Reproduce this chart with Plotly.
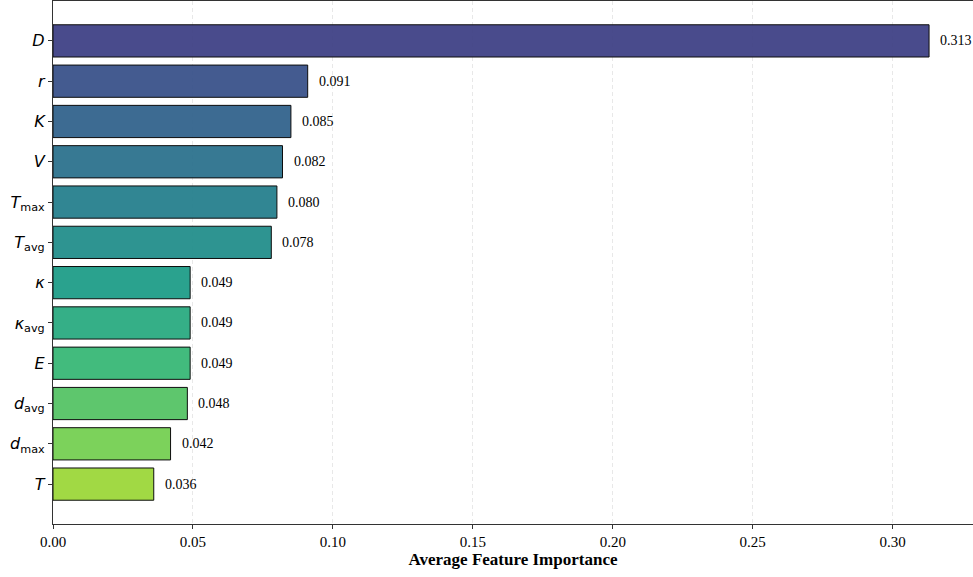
import plotly.graph_objects as go
from plotly.colors import sample_colorscale

# Feature names (top to bottom as displayed) and their average importance
features = [
    "<i>D</i>", "<i>r</i>", "<i>K</i>", "<i>V</i>",
    "<i>T</i><sub>max</sub>", "<i>T</i><sub>avg</sub>",
    "<i>κ</i>", "<i>κ</i><sub>avg</sub>", "<i>E</i>",
    "<i>d</i><sub>avg</sub>", "<i>d</i><sub>max</sub>", "<i>T</i>",
]
importance = [0.313, 0.091, 0.085, 0.082, 0.080, 0.078,
              0.049, 0.049, 0.049, 0.048, 0.042, 0.036]
value_labels = [f"{v:.3f}" for v in importance]

n = len(features)
# viridis shades from dark (most important) to light green
colors = sample_colorscale("Viridis", [0.2 + 0.65 * i / (n - 1) for i in range(n)])

# plot bottom-to-top so the most important feature sits on top
feat_plot = features[::-1]
imp_plot = importance[::-1]
col_plot = colors[::-1]
lab_plot = value_labels[::-1]

fig = go.Figure(
    go.Bar(
        x=imp_plot,
        y=feat_plot,
        orientation="h",
        width=0.8,
        marker=dict(color=col_plot, line=dict(color="black", width=1)),
        opacity=0.95,
        hoverinfo="x+y",
    )
)

for v, f, t in zip(imp_plot, feat_plot, lab_plot):
    fig.add_annotation(
        x=v, y=f, text=t, showarrow=False, xanchor="left", xshift=9,
        font=dict(family="Liberation Serif", size=14, color="black"),
    )

fig.update_layout(
    width=973,
    height=577,
    margin=dict(l=53, r=0, t=1, b=53),
    plot_bgcolor="white",
    paper_bgcolor="white",
    showlegend=False,
)

fig.update_xaxes(
    range=[0, 0.3287],
    tickvals=[0, 0.05, 0.10, 0.15, 0.20, 0.25, 0.30],
    ticktext=["0.00", "0.05", "0.10", "0.15", "0.20", "0.25", "0.30"],
    tickfont=dict(family="Liberation Serif", size=15, color="black"),
    ticks="outside", ticklen=4, tickcolor="#333",
    showline=True, linecolor="#333", linewidth=1.3, mirror=True,
    showgrid=True, gridcolor="rgba(0,0,0,0.09)", griddash="4px,3px", gridwidth=1,
    zeroline=False,
    title=dict(
        text="<b>Average Feature Importance</b>",
        font=dict(family="Liberation Serif", size=17, color="black"),
        standoff=3,
    ),
)

fig.update_yaxes(
    type="category",
    categoryorder="array",
    categoryarray=feat_plot,
    range=[-0.99, n - 1 + 0.99],
    tickfont=dict(family="DejaVu Sans", size=16, color="black"),
    ticks="outside", ticklen=4, tickcolor="#333",
    showline=True, linecolor="#333", linewidth=1.3,
    showgrid=False, zeroline=False,
)

fig.write_html("out.html")
